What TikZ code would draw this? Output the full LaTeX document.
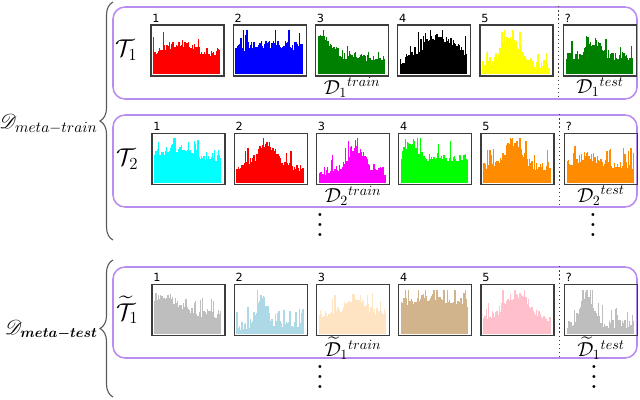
\documentclass[tikz,border=0pt]{standalone}
\usepackage{amsmath, amssymb}
\usepackage{mathrsfs}
\usepackage{fontspec}
\newfontfamily\numfont{DejaVu Sans}
\usepackage{xcolor}
\usepackage{tikz}
\usetikzlibrary{positioning, calc, decorations.pathreplacing}
\definecolor{panelc}{RGB}{185,140,240}
\definecolor{boxc}{RGB}{60,60,60}
\definecolor{bracec}{RGB}{90,90,90}
\definecolor{redC}{RGB}{255,0,0}
\definecolor{blueC}{RGB}{0,0,255}
\definecolor{greenD}{RGB}{0,128,0}
\definecolor{yellowC}{RGB}{255,255,0}
\definecolor{cyanC}{RGB}{0,255,255}
\definecolor{magentaC}{RGB}{255,0,255}
\definecolor{limeG}{RGB}{0,255,0}
\definecolor{orangeD}{RGB}{255,140,0}
\definecolor{silverG}{RGB}{190,190,190}
\definecolor{lblue}{RGB}{173,216,230}
\definecolor{bisqueC}{RGB}{255,228,196}
\definecolor{tanC}{RGB}{210,180,140}
\definecolor{pinkC}{RGB}{255,192,203}
% tight vertical dots (no top kern)
\newcommand{\vdotsx}{\vbox{\baselineskip3.6pt\lineskiplimit0pt\hbox{.}\hbox{.}\hbox{.}}}
% #1 box, #2 colour, #3 base, #4 peak, #5 centre, #6 spread
\newcommand{\hist}[6]{%
  \foreach \i in {0,...,55}{
    \pgfmathsetmacro{\hx}{\i/55}
    \pgfmathsetmacro{\hh}{min(0.97, #3 + #4*exp(-(((\hx-#5)/#6)^2)) + 0.2*rnd + 0.28*(rnd>0.86))}
    \fill[#2] ($(#1.south west)+(0.7mm+\i*0.3mm,0.6mm)$) rectangle ++(0.33mm,\hh*11.4mm);
  }}

\begin{document}
\begin{tikzpicture}[
  x=0.25mm, y=0.25mm,
  panel/.style={draw=panelc, line width=1.1pt, rounded corners=3mm,
                minimum width=131mm, minimum height=23mm},
  box/.style={draw=boxc, line width=0.9pt, inner sep=0pt,
              minimum width=18.25mm, minimum height=12.75mm},
  num/.style={font=\numfont\footnotesize, anchor=south west, inner sep=0.4mm},
  tlab/.style={font=\LARGE},
  dlab/.style={font=\Large, inner sep=0.5pt},
  setlab/.style={anchor=east, inner sep=0pt},
  sep/.style={draw=boxc, dotted, line width=0.9pt},
  brc/.style={draw=bracec, line width=0.8pt, decorate,
              decoration={brace, amplitude=3.25mm}},
  dots/.style={scale=2, inner sep=0pt},
]
\useasboundingbox (0,0) rectangle (640,399);
\pgfmathsetseed{11}

% ===================== Task 1 =====================
\node[panel] (P1) at (375,346) {};
\node[box] (A1) at (187.5,348.5) {};
\foreach \k [remember=\k as \p (initially 1)] in {2,...,5}
  \node[box, right=2mm of A\p] (A\k) {};
\node[box, right=2.3mm of A5] (A6) {};
\foreach \k in {1,...,5} \node[num] (nA\k) at (A\k.north west) {\k};
\node[num] (nA6) at (A6.north west) {?};
\node[tlab, left=2mm of A1] (TA) {$\mathcal{T}_1$};
\node[dlab, below=0pt of A3] (DAtr) {$\mathcal{D}_1{}^{train}$};
\node[dlab, below=0pt of A6] (DAte) {$\mathcal{D}_1{}^{test}$};
\coordinate (SA) at ($(A5.east)!.5!(A6.west)$);
\draw[sep] (SA |- P1.north) -- (SA |- P1.south);

% ===================== Task 2 =====================
\node[panel] (P2) at (375,238) {};
\node[box] (B1) at (188.5,240) {};
\foreach \k [remember=\k as \p (initially 1)] in {2,...,5}
  \node[box, right=2mm of B\p] (B\k) {};
\node[box, right=2.3mm of B5] (B6) {};
\foreach \k in {1,...,5} \node[num] (nB\k) at (B\k.north west) {\k};
\node[num] (nB6) at (B6.north west) {?};
\node[tlab, left=2mm of B1] (TB) {$\mathcal{T}_2$};
\node[dlab, below=0pt of B3] (DBtr) {$\mathcal{D}_2{}^{train}$};
\node[dlab, below=0pt of B6] (DBte) {$\mathcal{D}_2{}^{test}$};
\coordinate (SB) at ($(B5.east)!.5!(B6.west)$);
\draw[sep] (SB |- P2.north) -- (SB |- P2.south);
\node[dots] (vB1) at (320,174) {\vdotsx};
\node[dots] (vB2) at (593,174) {\vdotsx};

% ===================== Meta-test task =====================
\node[panel, minimum height=22.75mm] (P3) at (375,86.5) {};
\node[box] (C1) at (188.5,89) {};
\foreach \k [remember=\k as \p (initially 1)] in {2,...,5}
  \node[box, right=2mm of C\p] (C\k) {};
\node[box, right=2.3mm of C5] (C6) {};
\foreach \k in {1,...,5} \node[num] (nC\k) at (C\k.north west) {\k};
\node[num] (nC6) at (C6.north west) {?};
\node[tlab, left=2mm of C1] (TC) {$\widetilde{\mathcal{T}}_1$};
\node[dlab, below=0pt of C3] (DCtr) {$\widetilde{\mathcal{D}}_1{}^{train}$};
\node[dlab, below=0pt of C6] (DCte) {$\widetilde{\mathcal{D}}_1{}^{test}$};
\coordinate (SC) at ($(C5.east)!.5!(C6.west)$);
\draw[sep] (SC |- P3.north) -- (SC |- P3.south);
\node[dots] (vC1) at (320,22) {\vdotsx};
\node[dots] (vC2) at (594,22) {\vdotsx};

% histograms
\foreach \nm/\col/\base/\peak/\ctr/\spr in {
    A1/redC/0.38/0.2/0.4/0.3, A2/blueC/0.5/0.08/0.5/0.3, A3/greenD/0.3/0.45/0.05/0.2,
    A4/black/0.1/0.6/0.6/0.45, A5/yellowC/0.12/0.6/0.42/0.2, A6/greenD/0.3/0.3/0.42/0.15,
    B1/cyanC/0.4/0.25/0.35/0.4, B2/redC/0.25/0.5/0.45/0.2, B3/magentaC/0.15/0.5/0.55/0.2,
    B4/limeG/0.45/0.35/0.15/0.12, B5/orangeD/0.25/0.55/0.45/0.18, B6/orangeD/0.3/0.2/0.3/0.2,
    C1/silverG/0.35/0.4/0.1/0.3, C2/lblue/0.08/0.6/0.38/0.12, C3/bisqueC/0.35/0.35/0.55/0.2,
    C4/tanC/0.55/0.15/0.5/0.4, C5/pinkC/0.2/0.55/0.5/0.28, C6/silverG/0.12/0.65/0.3/0.13}
  {\hist{\nm}{\col}{\base}{\peak}{\ctr}{\spr}}

% meta-train / meta-test braces
\coordinate (BRt) at (113,397);
\coordinate (BRb) at (113,159);
\draw[brc] (BRb) -- (BRt);
\node[setlab, font=\fontsize{15}{17}\selectfont] (Dtrain) at (98,275) {$\mathscr{D}_{meta-train}$};
\coordinate (BTt) at (113,139);
\coordinate (BTb) at (113,2);
\draw[brc] (BTb) -- (BTt);
\node[setlab, font=\fontsize{14}{16}\selectfont] (Dtest) at (98,69) {$\mathscr{D}_{\boldsymbol{meta-test}}$};
\end{tikzpicture}
\end{document}
